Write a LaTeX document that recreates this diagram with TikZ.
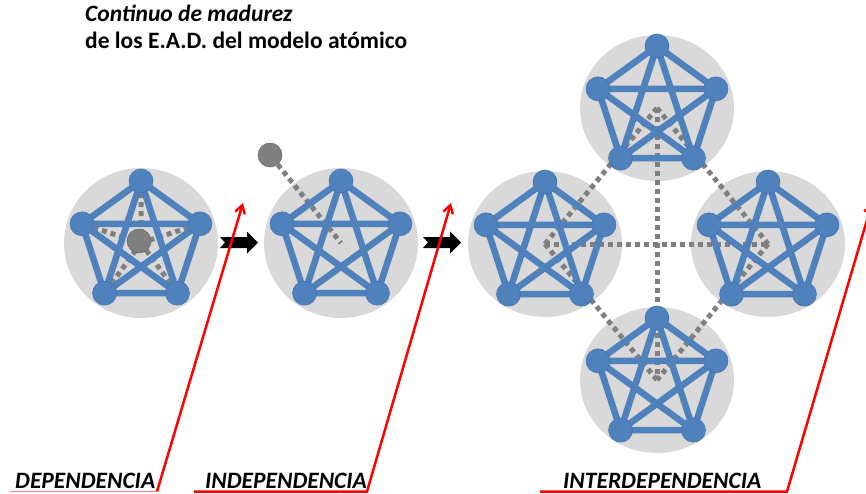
\documentclass[tikz,border=0pt]{standalone}
\usepackage{fontspec}
\setmainfont{Carlito}
\usepackage{tikz}
\usetikzlibrary{arrows.meta}

\definecolor{azul}{HTML}{4F81BD}
\definecolor{azulborde}{HTML}{4674B0}
\definecolor{grisfondo}{HTML}{D9D9D9}
\definecolor{grispunto}{HTML}{7F7F7F}

\tikzset{
  fondo/.style={fill=grisfondo},
  arista/.style={draw=azul,line width=6.5pt,line join=round},
  vertice/.style={fill=azul,draw=azulborde,line width=0.6pt},
  punteado/.style={draw=grispunto,line width=5pt,dash pattern=on 5pt off 4pt},
  nucleo/.style={circle,fill=grispunto,draw=black!60,line width=0.5pt,minimum size=24pt,inner sep=0pt},
  flecha/.style={fill=black},
  rojo/.style={draw=red,line width=2.5pt,line join=miter},
  etiqueta/.style={anchor=base west,inner sep=0pt,font=\fontsize{23.5}{28}\selectfont\bfseries\itshape},
  titulo/.style={anchor=base west,inner sep=0pt,font=\fontsize{23.5}{28}\selectfont\bfseries}
}

\begin{document}
\begin{tikzpicture}[x=1pt,y=-1pt]
\useasboundingbox (0,0) rectangle (866,493);
\clip (0,0) rectangle (866,493);
% titulo
\node[titulo] (tit1) at (85,21) {\itshape Continuo de madurez};
\node[titulo] (tit2) at (85,48) {de los E.A.D.\ del modelo atómico};
% centros de los E.A.D.
\coordinate (c1) at (141,243);
\coordinate (c2) at (341,243);
\coordinate (cn) at (657,108);
\coordinate (co) at (545,244);
\coordinate (ce) at (768,244);
\coordinate (cs) at (657,380);
% fondos
\fill[fondo] (c1) ellipse (77 and 75);
\fill[fondo] (c2) ellipse (77 and 75);
\fill[fondo] (cn) ellipse (77 and 73);
\fill[fondo] (co) ellipse (77 and 73);
\fill[fondo] (ce) ellipse (77 and 73);
\fill[fondo] (cs) ellipse (77 and 73);
% enlaces de interdependencia
\draw[punteado] (cn) -- (cs);
\draw[punteado] (co) -- (ce);
\draw[punteado] (cn) -- (co);
\draw[punteado] (cn) -- (ce);
\draw[punteado] (co) -- (cs);
\draw[punteado] (ce) -- (cs);
% dependencia
\begin{scope}[shift={(141,243)}]
  \coordinate (d1) at (0.000,-62.000);
  \coordinate (d2) at (58.966,-19.159);
  \coordinate (d3) at (36.443,50.159);
  \coordinate (d4) at (-36.443,50.159);
  \coordinate (d5) at (-58.966,-19.159);
  \draw[punteado] (c1) -- (d1) (c1) -- (d2) (c1) -- (d3) (c1) -- (d4) (c1) -- (d5);
  \draw[arista] (d1) -- (d2) -- (d3) -- (d4) -- (d5) -- cycle;
  \draw[arista] (d1) -- (d3) -- (d5) -- (d2) -- (d4) -- cycle;
  \filldraw[vertice] (d1) circle (12) (d2) circle (12) (d3) circle (12) (d4) circle (12) (d5) circle (12);
  \node[nucleo] (nucleo1) at (-2,-2) {};
\end{scope}
% independencia
\begin{scope}[shift={(341,243)}]
  \coordinate (i1) at (0.000,-62.000);
  \coordinate (i2) at (58.966,-19.159);
  \coordinate (i3) at (36.443,50.159);
  \coordinate (i4) at (-36.443,50.159);
  \coordinate (i5) at (-58.966,-19.159);
  \node[nucleo] (nucleo2) at (-71,-88) {};
  \draw[punteado] (nucleo2) -- (c2);
  \draw[arista] (i1) -- (i2) -- (i3) -- (i4) -- (i5) -- cycle;
  \draw[arista] (i1) -- (i3) -- (i5) -- (i2) -- (i4) -- cycle;
  \filldraw[vertice] (i1) circle (12) (i2) circle (12) (i3) circle (12) (i4) circle (12) (i5) circle (12);
\end{scope}
% interdependencia: norte
\begin{scope}[shift={(657,108)}]
  \coordinate (n1) at (0.000,-62.000);
  \coordinate (n2) at (58.966,-19.159);
  \coordinate (n3) at (36.443,50.159);
  \coordinate (n4) at (-36.443,50.159);
  \coordinate (n5) at (-58.966,-19.159);
  \draw[arista] (n1) -- (n2) -- (n3) -- (n4) -- (n5) -- cycle;
  \draw[arista] (n1) -- (n3) -- (n5) -- (n2) -- (n4) -- cycle;
  \filldraw[vertice] (n1) circle (12) (n2) circle (12) (n3) circle (12) (n4) circle (12) (n5) circle (12);
\end{scope}
% interdependencia: oeste
\begin{scope}[shift={(545,244)}]
  \coordinate (o1) at (0.000,-62.000);
  \coordinate (o2) at (58.966,-19.159);
  \coordinate (o3) at (36.443,50.159);
  \coordinate (o4) at (-36.443,50.159);
  \coordinate (o5) at (-58.966,-19.159);
  \draw[arista] (o1) -- (o2) -- (o3) -- (o4) -- (o5) -- cycle;
  \draw[arista] (o1) -- (o3) -- (o5) -- (o2) -- (o4) -- cycle;
  \filldraw[vertice] (o1) circle (12) (o2) circle (12) (o3) circle (12) (o4) circle (12) (o5) circle (12);
\end{scope}
% interdependencia: este
\begin{scope}[shift={(768,244)}]
  \coordinate (e1) at (0.000,-62.000);
  \coordinate (e2) at (58.966,-19.159);
  \coordinate (e3) at (36.443,50.159);
  \coordinate (e4) at (-36.443,50.159);
  \coordinate (e5) at (-58.966,-19.159);
  \draw[arista] (e1) -- (e2) -- (e3) -- (e4) -- (e5) -- cycle;
  \draw[arista] (e1) -- (e3) -- (e5) -- (e2) -- (e4) -- cycle;
  \filldraw[vertice] (e1) circle (12) (e2) circle (12) (e3) circle (12) (e4) circle (12) (e5) circle (12);
\end{scope}
% interdependencia: sur
\begin{scope}[shift={(657,380)}]
  \coordinate (s1) at (0.000,-62.000);
  \coordinate (s2) at (58.966,-19.159);
  \coordinate (s3) at (36.443,50.159);
  \coordinate (s4) at (-36.443,50.159);
  \coordinate (s5) at (-58.966,-19.159);
  \draw[arista] (s1) -- (s2) -- (s3) -- (s4) -- (s5) -- cycle;
  \draw[arista] (s1) -- (s3) -- (s5) -- (s2) -- (s4) -- cycle;
  \filldraw[vertice] (s1) circle (12) (s2) circle (12) (s3) circle (12) (s4) circle (12) (s5) circle (12);
\end{scope}
% flechas de avance
\fill[flecha] (220,237) -- (247,237) -- (247,231.5) -- (258,242.5) -- (247,253.5) -- (247,248) -- (220,248) -- (225,242.5) -- cycle;
\fill[flecha] (423,237) -- (450,237) -- (450,231.5) -- (461,242.5) -- (450,253.5) -- (450,248) -- (423,248) -- (428,242.5) -- cycle;
% etiquetas y lineas rojas
\node[etiqueta] (lblDep) at (15,488) {DEPENDENCIA};
\node[etiqueta] (lblInd) at (205,488) {INDEPENDENCIA};
\node[etiqueta] (lblInt) at (563,488) {INTERDEPENDENCIA};
\coordinate (finDep) at (243,203);
\coordinate (finInd) at (451,203);
\coordinate (finInt) at (872,203);
\draw[rojo,draw=red!50,line width=1.5pt] (10,491.5) -- (157,491.5);
\draw[rojo,-{Straight Barb[length=8pt,width=10pt]}] (157,491.5) -- (finDep);
\draw[rojo,-{Straight Barb[length=8pt,width=10pt]}] (194,491.5) -- (367,491.5) -- (finInd);
\draw[rojo,-{Straight Barb[length=8pt,width=10pt]}] (540,491.5) -- (787,491.5) -- (finInt);
\end{tikzpicture}
\end{document}
